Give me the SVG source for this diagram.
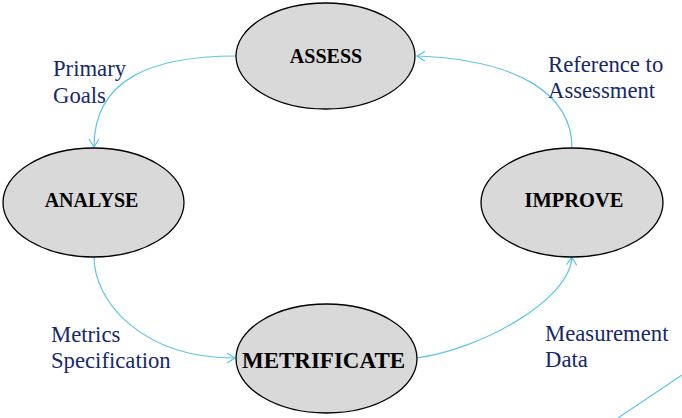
<svg xmlns="http://www.w3.org/2000/svg" width="682" height="418" viewBox="0 0 682 418">
<style>
.node{fill:#d9d9d9;stroke:#000;stroke-width:1.3}
.nt{font-family:"Liberation Serif",serif;font-weight:bold;fill:#000;text-anchor:middle}
.lbl{font-family:"Liberation Serif",serif;font-size:22.7px;fill:#15296b}
.conn{fill:none;stroke:#5cc6ea;stroke-width:1.2}
</style>
<defs>
<marker id="arr" viewBox="-10 -6 12 12" markerWidth="12" markerHeight="12" refX="0" refY="0" orient="auto" markerUnits="userSpaceOnUse">
<path d="M-8,-5 L0,0 L-8,5" fill="none" stroke="#5cc6ea" stroke-width="1.2"/>
</marker>
</defs>
<rect width="682" height="418" fill="#fff"/>
<g id="connectors">
<path class="conn" d="M236,56 C150,56 94,80 94,147" marker-end="url(#arr)"/>
<path class="conn" d="M94,257 C94,300 140,358 235,358" marker-end="url(#arr)"/>
<path class="conn" d="M416,358 C480,350 570,300 572,257" marker-end="url(#arr)"/>
<path class="conn" d="M572,148 C572,95 520,60 417,56" marker-end="url(#arr)"/>
<line class="conn" x1="618" y1="418" x2="682" y2="375"/>
</g>
<g id="assess">
<ellipse class="node" cx="325.5" cy="56" rx="89.5" ry="53"/>
<text class="nt" x="326" y="63" font-size="20">ASSESS</text>
</g>
<g id="analyse">
<ellipse class="node" cx="93.5" cy="202.5" rx="90.5" ry="54.5"/>
<text class="nt" x="91.5" y="207" font-size="20">ANALYSE</text>
</g>
<g id="improve">
<ellipse class="node" cx="572" cy="202.5" rx="91" ry="54.5"/>
<text class="nt" x="574" y="207" font-size="20.5">IMPROVE</text>
</g>
<g id="metrificate">
<ellipse class="node" cx="326.5" cy="358.5" rx="90.5" ry="54.5"/>
<text class="nt" x="323.5" y="368" font-size="23">METRIFICATE</text>
</g>
<g id="labels">
<text class="lbl" x="53" y="76">Primary</text>
<text class="lbl" x="53" y="103">Goals</text>
<text class="lbl" x="548" y="72">Reference to</text>
<text class="lbl" x="548" y="98">Assessment</text>
<text class="lbl" x="51" y="342">Metrics</text>
<text class="lbl" x="51" y="368">Specification</text>
<text class="lbl" x="545" y="341">Measurement</text>
<text class="lbl" x="545" y="367">Data</text>
</g>
</svg>
